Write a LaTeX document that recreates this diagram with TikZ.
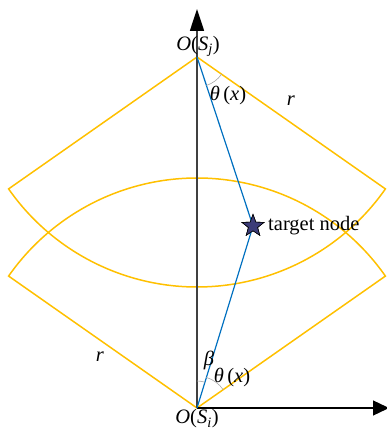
\documentclass[tikz,border=0pt]{standalone}
\usepackage{fontspec}
\setmainfont{Liberation Serif}
\usetikzlibrary{arrows.meta,shapes.geometric}
\definecolor{gold}{HTML}{FFC000}
\definecolor{lineblue}{HTML}{0070C0}
\definecolor{axisgray}{HTML}{404040}
\definecolor{starfill}{HTML}{3C3C78}
\begin{document}
\begin{tikzpicture}[x=1pt,y=1pt,
  sector/.style={draw=gold,line width=1.5pt,line join=miter},
  ray/.style={draw=lineblue,line width=1.2pt},
  anglearc/.style={draw=gray!70,line width=0.6pt},
  starnode/.style={star,star points=5,star point ratio=2.4,minimum size=23pt,inner sep=0pt,draw=black,fill=starfill,line width=0.6pt},
  lbl/.style={inner sep=0pt,font=\fontsize{20.5}{22}\selectfont}]
\useasboundingbox (0,0) rectangle (387,430);
\coordinate (T) at (197,373);
\coordinate (B) at (197,22);
\node[starnode] (S) at (253,204) {};
% sectors
\draw[sector] (T) -- ++(215:230) arc[start angle=215,end angle=325,radius=230] -- cycle;
\draw[sector] (B) -- ++(35:230) arc[start angle=35,end angle=145,radius=230] -- cycle;
% axes
\coordinate (Ytip) at (197,421);
\coordinate (Xtip) at (389,22);
\draw[axisgray,line width=1.7pt,-{Triangle[length=22pt,width=14pt,color=black]}] (B) -- (Ytip);
\draw[black,line width=1.3pt,-{Triangle[length=16pt,width=15pt]}] (B) -- (Xtip);
% rays
\draw[ray] (T) -- (S.center);
\draw[ray] (B) -- (S.center);
\node[starnode] at (253,204) {};
% angle arcs
\draw[anglearc] ([shift={(288.3:30)}]T) arc[start angle=288.3,end angle=325,radius=30];
\draw[anglearc] ([shift={(90:27)}]B) arc[start angle=90,end angle=72.9,radius=27];
\draw[anglearc] ([shift={(72.9:32)}]B) arc[start angle=72.9,end angle=35,radius=32];
% labels
\node[lbl] (lOj) at (198,384) {\textit{O}(\textit{S}\textsubscript{\textit{j}})};
\node[lbl] (lOi) at (197,11) {\textit{O}(\textit{S}\textsubscript{\textit{i}})};
\node[lbl] (lth1) at (228,334) {\textit{θ}\,(\textit{x})};
\node[lbl] (lth2) at (232,52) {\textit{θ}\,(\textit{x})};
\node[lbl] (lb) at (209,70) {\textit{β}};
\node[lbl] (lr1) at (291,329) {\textit{r}};
\node[lbl] (lr2) at (100,73) {\textit{r}};
\node[lbl,anchor=west] (ltn) at (268,204) {target node};
\end{tikzpicture}
\end{document}
